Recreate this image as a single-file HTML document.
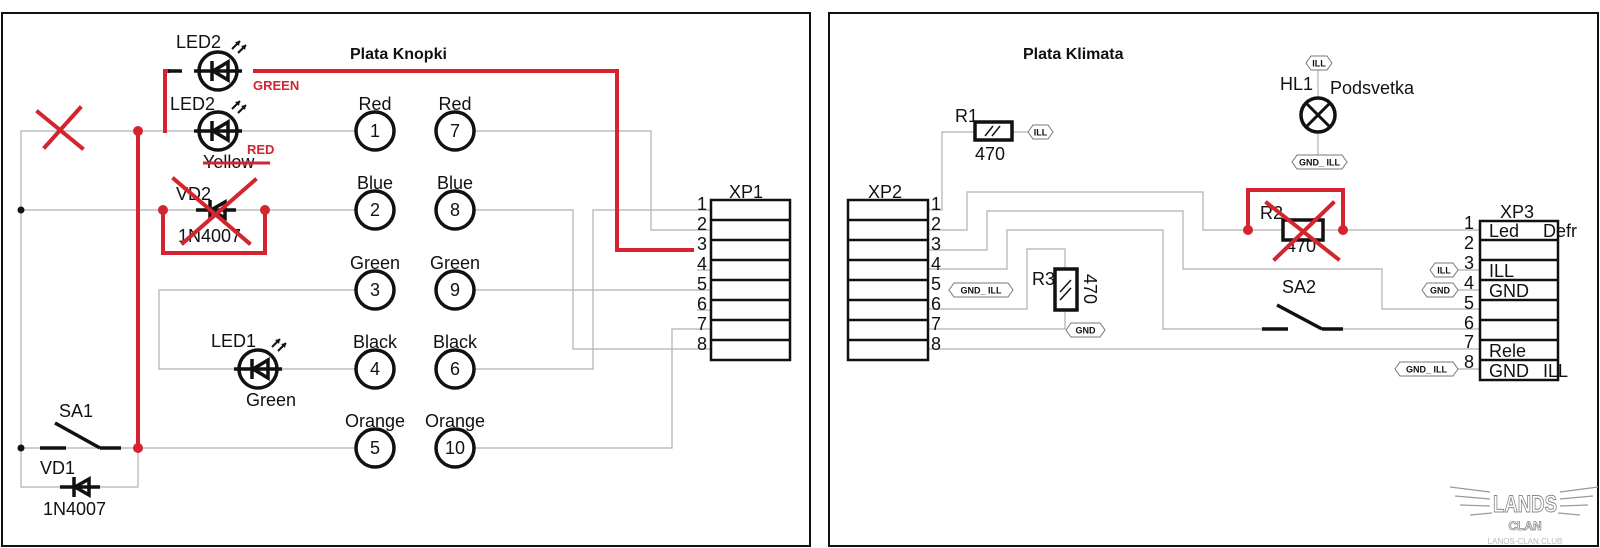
<!DOCTYPE html>
<html><head><meta charset="utf-8"><style>
html,body{margin:0;padding:0;background:#fff}
svg{display:block}
text{font-family:"Liberation Sans",sans-serif;fill:#111}
.w{stroke:#b0b0b0;stroke-width:1.2;fill:none}
.r{stroke:#d3242f;stroke-width:4;fill:none;stroke-linecap:square}
.hx{fill:#fff;stroke:#777;stroke-width:1}
.ht{font-size:9px;font-weight:bold;text-anchor:middle}
.t{font-size:18px}
</style></head><body>
<svg width="1600" height="548" viewBox="0 0 1600 548" xmlns="http://www.w3.org/2000/svg">
<defs>
<g id="led">
 <circle cx="0" cy="0" r="19" fill="none" stroke="#111" stroke-width="3.5"/>
 <line x1="-24" y1="0" x2="24" y2="0" stroke="#111" stroke-width="3.5"/>
 <polygon points="10,-9 10,9 -5,0" fill="none" stroke="#111" stroke-width="3.5"/>
 <line x1="-6" y1="-10" x2="-6" y2="10" stroke="#111" stroke-width="3.5"/>
 <line x1="14" y1="-22" x2="22" y2="-30" stroke="#111" stroke-width="2"/>
 <line x1="20" y1="-18" x2="28" y2="-26" stroke="#111" stroke-width="2"/>
 <polygon points="22,-30 17,-29 21,-25" fill="#111"/>
 <polygon points="28,-26 23,-25 27,-21" fill="#111"/>
</g>
<g id="dio">
 <line x1="-20" y1="0" x2="20" y2="0" stroke="#111" stroke-width="3.5"/>
 <polygon points="9,-8 9,8 -5,0" fill="none" stroke="#111" stroke-width="3.5"/>
 <line x1="-6" y1="-10" x2="-6" y2="10" stroke="#111" stroke-width="3.5"/>
</g>
</defs>

<rect x="2" y="13" width="808" height="533" fill="none" stroke="#111" stroke-width="2"/>
<rect x="829" y="13" width="769" height="533" fill="none" stroke="#111" stroke-width="2"/>

<!-- ===== LEFT PANEL ===== -->
<text x="350" y="59" font-size="16" font-weight="bold">Plata Knopki</text>

<polyline class="w" points="197,131 21,131 21,487 138,487 138,448"/>
<line class="w" x1="238" y1="131" x2="356" y2="131"/>
<polyline class="w" points="474,131 651,131 651,230 711,230"/>
<line class="w" x1="21" y1="210" x2="356" y2="210"/>
<polyline class="w" points="474,210 573,210 573,349 711,349"/>
<polyline class="w" points="474,369 593,369 593,210 711,210"/>
<polyline class="w" points="356,290 159,290 159,369 356,369"/>
<line class="w" x1="474" y1="290" x2="711" y2="290"/>
<line class="w" x1="21" y1="448" x2="356" y2="448"/>
<polyline class="w" points="474,448 672,448 672,329 711,329"/>
<line class="w" x1="697" y1="270" x2="711" y2="270"/>
<line class="w" x1="697" y1="310" x2="711" y2="310"/>

<circle cx="21" cy="210" r="3.5" fill="#111"/>
<circle cx="21" cy="448" r="3.5" fill="#111"/>

<g fill="#fff" stroke="#111" stroke-width="3.5">
<circle cx="375" cy="131" r="19"/><circle cx="455" cy="131" r="19"/>
<circle cx="375" cy="210" r="19"/><circle cx="455" cy="210" r="19"/>
<circle cx="375" cy="290" r="19"/><circle cx="455" cy="290" r="19"/>
<circle cx="375" cy="369" r="19"/><circle cx="455" cy="369" r="19"/>
<circle cx="375" cy="448" r="19"/><circle cx="455" cy="448" r="19"/>
</g>
<g font-size="18" text-anchor="middle">
<text x="375" y="137">1</text><text x="455" y="137">7</text>
<text x="375" y="216">2</text><text x="455" y="216">8</text>
<text x="375" y="296">3</text><text x="455" y="296">9</text>
<text x="375" y="375">4</text><text x="455" y="375">6</text>
<text x="375" y="454">5</text><text x="455" y="454">10</text>
<text x="375" y="110">Red</text><text x="455" y="110">Red</text>
<text x="375" y="189">Blue</text><text x="455" y="189">Blue</text>
<text x="375" y="269">Green</text><text x="455" y="269">Green</text>
<text x="375" y="348">Black</text><text x="455" y="348">Black</text>
<text x="375" y="427">Orange</text><text x="455" y="427">Orange</text>
</g>

<text class="t" x="176" y="48">LED2</text>
<use href="#led" x="218" y="71"/>
<text class="t" x="170" y="110">LED2</text>
<use href="#led" x="218" y="131"/>
<text class="t" x="203" y="168">Yellow</text>
<line x1="203" y1="163" x2="270" y2="163" stroke="#d3242f" stroke-width="3"/>
<text x="253" y="90" font-size="13" font-weight="bold" style="fill:#d3242f">GREEN</text>
<text x="247" y="154" font-size="13" font-weight="bold" style="fill:#d3242f">RED</text>

<text class="t" x="176" y="200">VD2</text>
<use href="#dio" x="216" y="210"/>
<text class="t" x="178" y="242">1N4007</text>
<polyline class="r" points="163,210 163,253 265,253 265,210"/>
<circle cx="163" cy="210" r="5" fill="#d3242f"/><circle cx="265" cy="210" r="5" fill="#d3242f"/>
<line class="r" x1="174" y1="179" x2="249" y2="243"/>
<line class="r" x1="255" y1="180" x2="183" y2="243"/>

<polyline class="r" points="165,131 165,71 168,71"/>
<line x1="168" y1="71" x2="182" y2="71" stroke="#111" stroke-width="3.5"/>
<polyline class="r" points="255,71 617,71 617,250 692,250"/>
<line class="r" x1="138" y1="131" x2="138" y2="448"/>
<circle cx="138" cy="131" r="5" fill="#d3242f"/><circle cx="138" cy="448" r="5" fill="#d3242f"/>
<line class="r" x1="38" y1="112" x2="82" y2="148"/>
<line class="r" x1="80" y1="108" x2="45" y2="147"/>

<text class="t" x="211" y="347">LED1</text>
<use href="#led" x="258" y="369"/>
<text class="t" x="246" y="406">Green</text>

<text class="t" x="59" y="417">SA1</text>
<line x1="40" y1="448" x2="66" y2="448" stroke="#111" stroke-width="3.5"/>
<line x1="55" y1="423" x2="100" y2="448" stroke="#111" stroke-width="3.5"/>
<line x1="100" y1="448" x2="121" y2="448" stroke="#111" stroke-width="3.5"/>
<text class="t" x="40" y="474">VD1</text>
<use href="#dio" x="80" y="487"/>
<text class="t" x="43" y="515">1N4007</text>

<text class="t" x="729" y="198">XP1</text>
<rect x="711" y="200" width="79" height="160" fill="none" stroke="#111" stroke-width="2.5"/>
<g stroke="#111" stroke-width="2.5">
<line x1="711" y1="220" x2="790" y2="220"/><line x1="711" y1="240" x2="790" y2="240"/>
<line x1="711" y1="260" x2="790" y2="260"/><line x1="711" y1="280" x2="790" y2="280"/>
<line x1="711" y1="300" x2="790" y2="300"/><line x1="711" y1="320" x2="790" y2="320"/>
<line x1="711" y1="340" x2="790" y2="340"/>
</g>
<g class="t">
<text x="697" y="210">1</text><text x="697" y="230">2</text><text x="697" y="250">3</text><text x="697" y="270">4</text>
<text x="697" y="290">5</text><text x="697" y="310">6</text><text x="697" y="330">7</text><text x="697" y="350">8</text>
</g>

<!-- ===== RIGHT PANEL ===== -->
<text x="1023" y="59" font-size="16" font-weight="bold">Plata Klimata</text>

<polyline class="w" points="928,210 942,210 942,132 975,132"/>
<line class="w" x1="1012" y1="132" x2="1028" y2="132"/>
<polyline class="w" points="928,230 967,230 967,192 1203,192 1203,230 1480,230"/>
<polyline class="w" points="928,250 987,250 987,211 1183,211 1183,269 1382,269 1382,309 1480,309"/>
<polyline class="w" points="928,269 1007,269 1007,230 1163,230 1163,329 1262,329"/>
<line class="w" x1="1343" y1="329" x2="1480" y2="329"/>
<polyline class="w" points="928,309 1027,309 1027,249 1065,249 1065,269"/>
<polyline class="w" points="928,329 1065,329 1065,310"/>
<line class="w" x1="928" y1="349" x2="1480" y2="349"/>
<line class="w" x1="1458" y1="270" x2="1480" y2="270"/>
<line class="w" x1="1458" y1="290" x2="1480" y2="290"/>
<line class="w" x1="1458" y1="369" x2="1480" y2="369"/>
<line class="w" x1="1318" y1="70" x2="1318" y2="98"/>
<line class="w" x1="1318" y1="132" x2="1318" y2="155"/>

<g>
<polygon class="hx" points="1028,132 1033,125 1048,125 1053,132 1048,139 1033,139"/><text class="ht" x="1040.5" y="135.5">ILL</text>
<polygon class="hx" points="1306,63 1311,56 1327,56 1332,63 1327,70 1311,70"/><text class="ht" x="1319" y="66.5">ILL</text>
<polygon class="hx" points="1292,162 1297,155 1342,155 1347,162 1342,169 1297,169"/><text class="ht" x="1319.5" y="165.5">GND_ ILL</text>
<polygon class="hx" points="949,290 954,283 1008,283 1013,290 1008,297 954,297"/><text class="ht" x="981" y="293.5">GND_ ILL</text>
<polygon class="hx" points="1066,330 1071,323 1100,323 1105,330 1100,337 1071,337"/><text class="ht" x="1085.5" y="333.5">GND</text>
<polygon class="hx" points="1430,270 1435,263 1453,263 1458,270 1453,277 1435,277"/><text class="ht" x="1444" y="273.5">ILL</text>
<polygon class="hx" points="1422,290 1427,283 1453,283 1458,290 1453,297 1427,297"/><text class="ht" x="1440" y="293.5">GND</text>
<polygon class="hx" points="1395,369 1400,362 1453,362 1458,369 1453,376 1400,376"/><text class="ht" x="1426.5" y="372.5">GND_ ILL</text>
</g>

<text class="t" x="955" y="122">R1</text>
<rect x="975" y="122" width="37" height="18" fill="#fff" stroke="#111" stroke-width="3.5"/>
<line x1="985" y1="136" x2="993" y2="126" stroke="#111" stroke-width="1.5"/>
<line x1="992" y1="136" x2="1000" y2="126" stroke="#111" stroke-width="1.5"/>
<text class="t" x="975" y="160">470</text>

<text class="t" x="1280" y="90">HL1</text>
<text class="t" x="1330" y="94">Podsvetka</text>
<circle cx="1318" cy="115" r="17" fill="#fff" stroke="#111" stroke-width="3.5"/>
<line x1="1306" y1="103" x2="1330" y2="127" stroke="#111" stroke-width="3"/>
<line x1="1330" y1="103" x2="1306" y2="127" stroke="#111" stroke-width="3"/>

<text class="t" x="868" y="198">XP2</text>
<rect x="848" y="200" width="80" height="160" fill="none" stroke="#111" stroke-width="2.5"/>
<g stroke="#111" stroke-width="2.5">
<line x1="848" y1="220" x2="928" y2="220"/><line x1="848" y1="240" x2="928" y2="240"/>
<line x1="848" y1="260" x2="928" y2="260"/><line x1="848" y1="280" x2="928" y2="280"/>
<line x1="848" y1="300" x2="928" y2="300"/><line x1="848" y1="320" x2="928" y2="320"/>
<line x1="848" y1="340" x2="928" y2="340"/>
</g>
<g class="t">
<text x="931" y="210">1</text><text x="931" y="230">2</text><text x="931" y="250">3</text><text x="931" y="270">4</text>
<text x="931" y="290">5</text><text x="931" y="310">6</text><text x="931" y="330">7</text><text x="931" y="350">8</text>
</g>

<text class="t" x="1032" y="285">R3</text>
<rect x="1055" y="269" width="22" height="41" fill="#fff" stroke="#111" stroke-width="3.5"/>
<line x1="1060" y1="292" x2="1071" y2="280" stroke="#111" stroke-width="1.5"/>
<line x1="1060" y1="300" x2="1071" y2="288" stroke="#111" stroke-width="1.5"/>
<text class="t" transform="translate(1084,274) rotate(90)">470</text>

<text class="t" x="1260" y="219">R2</text>
<rect x="1283" y="220" width="40" height="20" fill="#fff" stroke="#111" stroke-width="3.5"/>
<text class="t" x="1286" y="252">470</text>
<polyline class="r" points="1248,230 1248,190 1343,190 1343,230"/>
<circle cx="1248" cy="230" r="5" fill="#d3242f"/><circle cx="1343" cy="230" r="5" fill="#d3242f"/>
<line class="r" x1="1267" y1="203" x2="1338" y2="259"/>
<line class="r" x1="1333" y1="203" x2="1275" y2="259"/>

<text class="t" x="1282" y="293">SA2</text>
<line x1="1262" y1="329" x2="1288" y2="329" stroke="#111" stroke-width="3.5"/>
<line x1="1277" y1="305" x2="1322" y2="329" stroke="#111" stroke-width="3.5"/>
<line x1="1322" y1="329" x2="1343" y2="329" stroke="#111" stroke-width="3.5"/>

<text class="t" x="1500" y="218">XP3</text>
<rect x="1480" y="221" width="78" height="159" fill="none" stroke="#111" stroke-width="2.5"/>
<g stroke="#111" stroke-width="2.5">
<line x1="1480" y1="240" x2="1558" y2="240"/><line x1="1480" y1="260" x2="1558" y2="260"/>
<line x1="1480" y1="280" x2="1558" y2="280"/><line x1="1480" y1="300" x2="1558" y2="300"/>
<line x1="1480" y1="320" x2="1558" y2="320"/><line x1="1480" y1="340" x2="1558" y2="340"/>
<line x1="1480" y1="360" x2="1558" y2="360"/>
</g>
<g class="t">
<text x="1464" y="229">1</text><text x="1464" y="249">2</text><text x="1464" y="269">3</text><text x="1464" y="289">4</text>
<text x="1464" y="309">5</text><text x="1464" y="329">6</text><text x="1464" y="348">7</text><text x="1464" y="368">8</text>
<text x="1489" y="237">Led</text><text x="1543" y="237">Defr</text>
<text x="1489" y="277">ILL</text>
<text x="1489" y="297">GND</text>
<text x="1489" y="357">Rele</text>
<text x="1489" y="377">GND</text><text x="1543" y="377">ILL</text>
</g>

<g fill="none" stroke="#999" stroke-width="1.2">
<text x="1525" y="512" font-size="24" font-weight="bold" text-anchor="middle" style="fill:#fff;stroke:#888;stroke-width:1" textLength="64" lengthAdjust="spacingAndGlyphs">LANDS</text>
<text x="1525" y="530" font-size="12" font-weight="bold" text-anchor="middle" style="fill:#fff;stroke:#888;stroke-width:0.8">CLAN</text>
<path d="M1450,487 L1490,492 M1455,496 L1490,499 M1460,505 L1490,506 M1470,515 L1492,513"/>
<path d="M1598,487 L1560,492 M1593,496 L1560,499 M1588,505 L1560,506 M1580,515 L1558,513"/>
<text x="1525" y="544" font-size="8" text-anchor="middle" style="fill:#bbb;stroke:none">LANOS-CLAN.CLUB</text>
</g>
</svg>
</body></html>
